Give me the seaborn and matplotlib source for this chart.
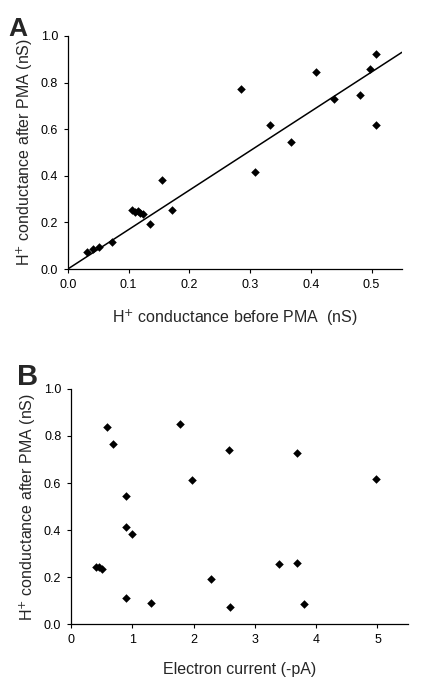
import matplotlib
matplotlib.use("Agg")
import matplotlib.pyplot as plt
import seaborn as sns
import pandas as pd

# --- Data ---
# Panel A: H+ conductance before vs after PMA (nS)
before_pma = [0.032, 0.042, 0.051, 0.072, 0.106, 0.110, 0.115, 0.118, 0.123,
              0.135, 0.155, 0.171, 0.285, 0.308, 0.333, 0.368, 0.408, 0.438,
              0.481, 0.497, 0.507, 0.508]
after_pma_a = [0.072, 0.085, 0.093, 0.115, 0.253, 0.243, 0.249, 0.242, 0.237,
               0.193, 0.382, 0.253, 0.773, 0.418, 0.617, 0.546, 0.847, 0.728,
               0.747, 0.858, 0.921, 0.619]
fit_x = [0.0, 0.55]
fit_y = [0.0, 0.93]

# Panel B: electron current (-pA) vs H+ conductance after PMA (nS)
electron_current = [0.40, 0.45, 0.50, 0.59, 0.69, 0.89, 0.90, 1.00, 0.90, 1.30,
                    1.78, 1.98, 2.29, 2.58, 2.59, 3.40, 3.68, 3.69, 3.80, 4.98]
after_pma_b = [0.244, 0.241, 0.235, 0.840, 0.767, 0.543, 0.413, 0.382, 0.112,
               0.091, 0.851, 0.614, 0.193, 0.741, 0.074, 0.254, 0.726, 0.258,
               0.086, 0.617]

y_ticks = [0.0, 0.2, 0.4, 0.6, 0.8, 1.0]
x_ticks_a = [0.0, 0.1, 0.2, 0.3, 0.4, 0.5]
x_ticks_b = [0, 1, 2, 3, 4, 5]

# --- Style ---
sns.set_style("ticks")
plt.rcParams["font.family"] = ["Liberation Sans", "DejaVu Sans"]
plt.rcParams["axes.linewidth"] = 0.9
plt.rcParams["xtick.major.size"] = 3
plt.rcParams["ytick.major.size"] = 3
plt.rcParams["xtick.major.width"] = 0.8
plt.rcParams["ytick.major.width"] = 0.8
plt.rcParams["xtick.color"] = "black"
plt.rcParams["ytick.color"] = "black"
plt.rcParams["axes.edgecolor"] = "black"

fig = plt.figure(figsize=(4.24, 6.88), dpi=100)
ax_a = fig.add_axes([0.160, 0.609, 0.788, 0.3387])
ax_b = fig.add_axes([0.1675, 0.093, 0.795, 0.3416])

ylabel = "H$^{+}$ conductance after PMA (nS)"
tick_fs = 9
label_fs = 11.5
marker_s = 19

# --- Panel A ---
df_a = pd.DataFrame({"before": before_pma, "after": after_pma_a})
sns.lineplot(x=fit_x, y=fit_y, ax=ax_a, color="black", linewidth=1.1)
sns.scatterplot(data=df_a, x="before", y="after", ax=ax_a, marker="D",
                color="black", s=marker_s, linewidth=0, zorder=3)
ax_a.set_xlim(0, 0.55)
ax_a.set_ylim(0, 1.0)
ax_a.set_xticks(x_ticks_a)
ax_a.set_xticklabels([f"{v:.1f}" for v in x_ticks_a], fontsize=tick_fs)
ax_a.set_yticks(y_ticks)
ax_a.set_yticklabels([f"{v:.1f}" for v in y_ticks], fontsize=tick_fs)
ax_a.set_xlabel("H$^{+}$ conductance before PMA  (nS)", fontsize=label_fs, labelpad=12)
ax_a.set_ylabel(ylabel, fontsize=label_fs, labelpad=4)
sns.despine(ax=ax_a)

# --- Panel B ---
df_b = pd.DataFrame({"current": electron_current, "after": after_pma_b})
sns.scatterplot(data=df_b, x="current", y="after", ax=ax_b, marker="D",
                color="black", s=marker_s, linewidth=0, zorder=3)
ax_b.set_xlim(0, 5.5)
ax_b.set_ylim(0, 1.0)
ax_b.set_xticks(x_ticks_b)
ax_b.set_xticklabels([str(v) for v in x_ticks_b], fontsize=tick_fs)
ax_b.set_yticks(y_ticks)
ax_b.set_yticklabels([f"{v:.1f}" for v in y_ticks], fontsize=tick_fs)
ax_b.set_xlabel("Electron current (-pA)", fontsize=label_fs, labelpad=12)
ax_b.set_ylabel(ylabel, fontsize=label_fs, labelpad=4)
sns.despine(ax=ax_b)

for ax in (ax_a, ax_b):
    ax.tick_params(axis="both", pad=4)

# panel letters
fig.text(8 / 424, 1 - 36 / 688, "A", fontsize=19, fontweight="bold",
         ha="left", va="baseline")
fig.text(17 / 424, 1 - 385 / 688, "B", fontsize=21, fontweight="bold",
         ha="left", va="baseline")

fig.savefig("out.png", dpi=100)
